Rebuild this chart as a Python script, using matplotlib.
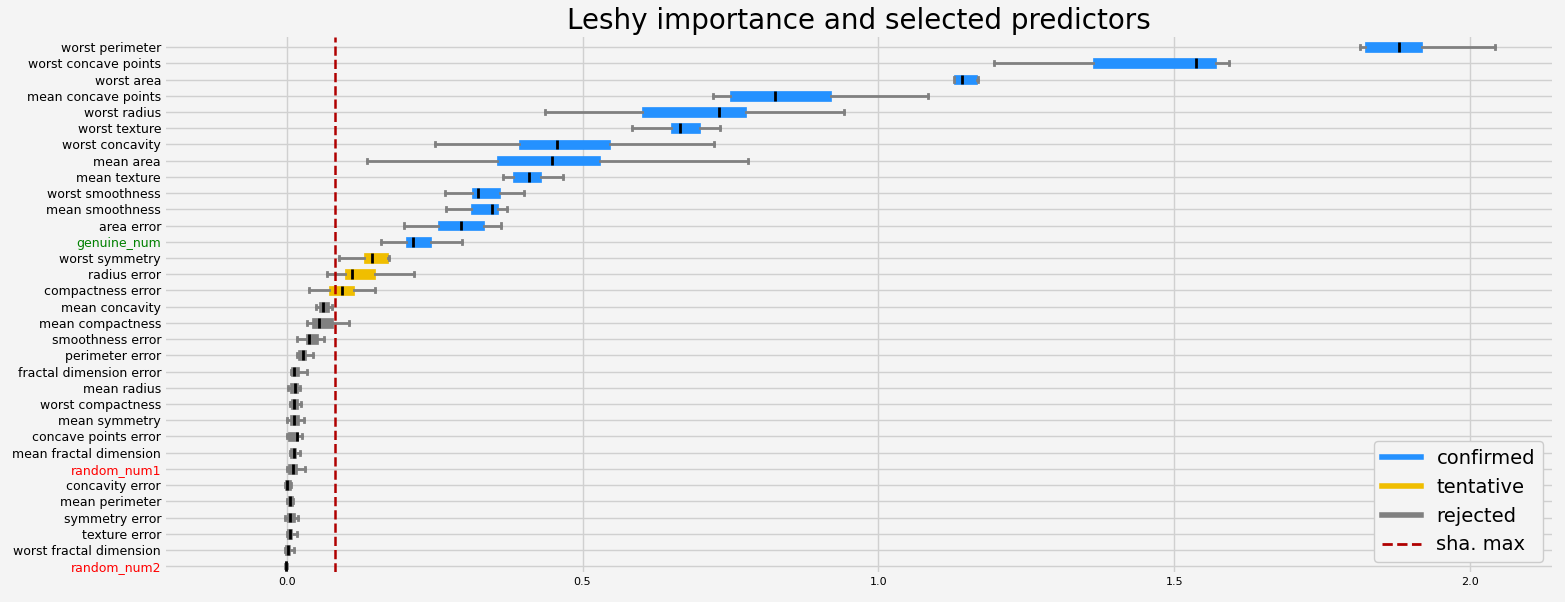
import matplotlib
matplotlib.use("Agg")
import matplotlib.pyplot as plt
from matplotlib.lines import Line2D

names = ["worst perimeter", "worst concave points", "worst area", "mean concave points",
         "worst radius", "worst texture", "worst concavity", "mean area", "mean texture",
         "worst smoothness", "mean smoothness", "area error", "genuine_num", "worst symmetry",
         "radius error", "compactness error", "mean concavity", "mean compactness",
         "smoothness error", "perimeter error", "fractal dimension error", "mean radius",
         "worst compactness", "mean symmetry", "concave points error", "mean fractal dimension",
         "random_num1", "concavity error", "mean perimeter", "symmetry error", "texture error",
         "worst fractal dimension", "random_num2"]
status = ["confirmed"] * 13 + ["tentative"] * 3 + ["rejected"] * 17
# whislo, q1, med, q3, whishi
stats = [
    [1.813, 1.823, 1.880, 1.919, 2.042],
    [1.196, 1.363, 1.537, 1.571, 1.593],
    [1.127, 1.128, 1.142, 1.167, 1.169],
    [0.720, 0.750, 0.826, 0.920, 1.084],
    [0.437, 0.601, 0.730, 0.777, 0.941],
    [0.584, 0.649, 0.665, 0.698, 0.733],
    [0.251, 0.392, 0.457, 0.546, 0.722],
    [0.136, 0.355, 0.448, 0.529, 0.779],
    [0.365, 0.383, 0.409, 0.429, 0.467],
    [0.267, 0.314, 0.324, 0.361, 0.401],
    [0.269, 0.312, 0.347, 0.358, 0.373],
    [0.198, 0.256, 0.294, 0.334, 0.362],
    [0.159, 0.201, 0.213, 0.244, 0.296],
    [0.088, 0.130, 0.145, 0.172, 0.173],
    [0.068, 0.098, 0.110, 0.149, 0.215],
    [0.037, 0.071, 0.094, 0.114, 0.150],
    [0.049, 0.055, 0.062, 0.072, 0.076],
    [0.035, 0.043, 0.054, 0.079, 0.106],
    [0.018, 0.032, 0.038, 0.053, 0.063],
    [0.017, 0.019, 0.027, 0.033, 0.045],
    [0.007, 0.008, 0.013, 0.021, 0.035],
    [0.002, 0.005, 0.015, 0.019, 0.023],
    [0.005, 0.008, 0.013, 0.019, 0.025],
    [0.001, 0.005, 0.013, 0.021, 0.029],
    [0.000, 0.003, 0.017, 0.019, 0.026],
    [0.005, 0.005, 0.013, 0.016, 0.023],
    [0.000, 0.002, 0.010, 0.018, 0.031],
    [-0.002, -0.002, 0.000, 0.008, 0.008],
    [0.001, 0.003, 0.006, 0.011, 0.011],
    [-0.002, 0.000, 0.005, 0.015, 0.019],
    [0.000, 0.000, 0.005, 0.009, 0.018],
    [-0.002, -0.002, 0.003, 0.006, 0.013],
    [-0.003, -0.003, -0.001, 0.000, 0.000],
]
sha_max = 0.081

colors = {"confirmed": "#2491ff", "tentative": "#f0be00", "rejected": "#808080"}
bg = "#f4f4f4"

fig = plt.figure(figsize=(15.65, 6.02), dpi=100, facecolor=bg)
ax = fig.add_axes([0.106, 0.05, 0.886, 0.888], facecolor=bg)

n = len(names)
positions = list(range(n - 1, -1, -1))
for name, st, s, pos in zip(names, stats, status, positions):
    d = dict(label=name, whislo=st[0], q1=st[1], med=st[2], q3=st[3], whishi=st[4], fliers=[])
    ax.bxp([d], positions=[pos], widths=0.6, vert=False, patch_artist=True, showfliers=False,
           boxprops=dict(facecolor=colors[s], edgecolor=colors[s], linewidth=0.5),
           whiskerprops=dict(color="gray", linewidth=2),
           capprops=dict(color="gray", linewidth=2),
           medianprops=dict(color="black", linewidth=2),
           capwidths=0.25)

ax.axvline(sha_max, color="#b00000", linestyle="--", linewidth=1.8)
ax.set_yticks(positions)
ax.set_yticklabels(names, fontsize=9)
for lab in ax.get_yticklabels():
    t = lab.get_text()
    if t == "genuine_num":
        lab.set_color("green")
    elif t.startswith("random"):
        lab.set_color("red")
ax.set_ylim(-0.35, n - 0.4)
ax.set_xlim(-0.204, 2.139)
ax.set_xticks([0.0, 0.5, 1.0, 1.5, 2.0])
ax.tick_params(axis="x", labelsize=8, length=0)
ax.tick_params(axis="y", length=0)
ax.grid(True, color="#d0d0d0", linewidth=1)
ax.set_axisbelow(True)
for sp in ax.spines.values():
    sp.set_visible(False)
ax.set_title("Leshy importance and selected predictors", fontsize=20)

handles = [Line2D([0], [0], color=colors["confirmed"], lw=4),
           Line2D([0], [0], color=colors["tentative"], lw=4),
           Line2D([0], [0], color=colors["rejected"], lw=4),
           Line2D([0], [0], color="#b00000", lw=2, linestyle="--")]
ax.legend(handles, ["confirmed", "tentative", "rejected", "sha. max"], loc="lower right",
          fontsize=14, facecolor=bg, framealpha=1)

fig.savefig("out.png", dpi=100, facecolor=bg)
